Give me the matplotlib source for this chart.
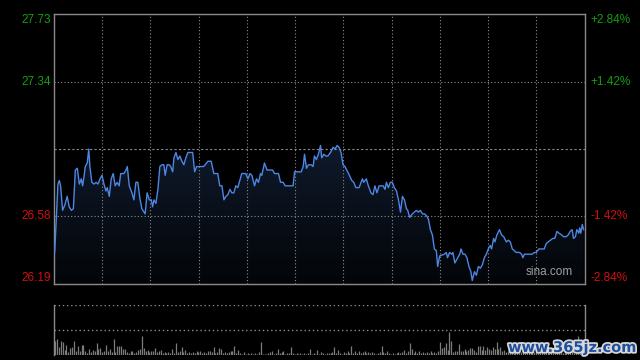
import numpy as np
import matplotlib
matplotlib.use("Agg")
import matplotlib.pyplot as plt
import matplotlib.patheffects as pe
from matplotlib.colors import LinearSegmentedColormap

plt.rcParams['font.family'] = ['Liberation Sans', 'DejaVu Sans']

# intraday data (minute from open, price)
minutes = [0.3, 1.8, 2.4, 3.0, 3.9, 4.9, 6.0, 6.9, 7.9, 8.8, 9.7, 10.6, 11.5, 12.4, 13.0, 13.6,
           14.2, 15.1, 15.8, 16.3, 17.2, 18.2, 19.1, 20.0, 20.9, 21.8, 22.7, 23.6, 24.2, 25.1,
           26.0, 26.9, 27.8, 28.7, 29.6, 30.3, 31.8, 32.7, 33.3, 34.2, 35.4, 36.3, 37.2, 38.1,
           39.0, 39.9, 40.9, 41.4, 42.3, 43.3, 44.2, 44.8, 45.4, 46.3, 47.2, 48.1, 49.0, 49.9,
           50.5, 51.4, 52.3, 53.0, 53.9, 54.5, 55.4, 56.3, 57.2, 58.1, 59.0, 59.9, 60.8, 63.0,
           63.9, 64.8, 67.9, 68.7, 69.9, 71.4, 72.6, 74.4, 75.3, 76.3, 77.2, 78.1, 79.0, 79.9,
           80.8, 81.7, 82.6, 83.5, 84.4, 85.3, 87.1, 88.1, 89.0, 89.9, 91.1, 92.0, 92.9, 93.8,
           94.4, 95.6, 96.8, 99.3, 100.2, 102.0, 102.9, 104.1, 105.0, 108.6, 109.3, 112.3, 113.2,
           113.8, 114.7, 115.6, 116.8, 117.7, 118.3, 119.2, 120.1, 121.1, 121.6, 122.6, 123.5,
           124.4, 125.6, 126.8, 127.7, 128.6, 129.5, 130.4, 131.3, 132.2, 133.8, 135.3, 136.2,
           137.1, 138.6, 139.5, 140.1, 140.7, 141.9, 142.8, 144.0, 144.9, 145.8, 146.7, 147.7,
           148.6, 149.5, 150.4, 151.0, 151.9, 152.8, 153.7, 154.6, 155.6, 156.5, 157.4, 158.3,
           159.2, 160.1, 160.7, 161.6, 162.8, 163.7, 164.6, 165.5, 166.4, 167.4, 168.3, 169.2,
           170.1, 171.0, 171.9, 172.8, 173.7, 174.3, 175.2, 177.3, 178.2, 178.8, 179.7, 180.7,
           181.2, 182.1, 183.4, 184.3, 184.9, 185.8, 186.7, 187.6, 188.5, 189.4, 190.0, 191.0,
           191.9, 192.8, 193.7, 194.6, 195.5, 196.4, 197.3, 198.2, 198.8, 199.7, 200.3, 201.2,
           202.4, 203.3, 204.3, 205.5, 206.4, 207.3, 208.2, 209.1, 210.0, 211.5, 212.4, 213.0,
           213.7, 217.3, 218.2, 219.1, 220.3, 222.7, 223.6, 224.5, 226.6, 227.5, 228.5, 229.4,
           230.6, 231.5, 232.7, 233.6, 234.5, 235.4, 236.0, 236.9, 237.5, 238.4, 238.8, 239.3,
           240.0, 240.6]
prices = [26.37, 26.76, 26.78, 26.75, 26.61, 26.64, 26.69, 26.63, 26.61, 26.62, 26.84, 26.85,
          26.76, 26.79, 26.75, 26.80, 26.86, 26.88, 26.96, 26.86, 26.77, 26.76, 26.77, 26.76,
          26.79, 26.81, 26.76, 26.72, 26.74, 26.69, 26.79, 26.82, 26.75, 26.77, 26.75, 26.82,
          26.82, 26.84, 26.86, 26.75, 26.71, 26.67, 26.77, 26.77, 26.68, 26.62, 26.60, 26.59,
          26.71, 26.67, 26.67, 26.63, 26.67, 26.65, 26.73, 26.86, 26.87, 26.87, 26.81, 26.87,
          26.87, 26.86, 26.83, 26.91, 26.94, 26.90, 26.92, 26.89, 26.87, 26.91, 26.94, 26.94,
          26.83, 26.86, 26.86, 26.87, 26.89, 26.89, 26.82, 26.82, 26.75, 26.75, 26.67, 26.69,
          26.70, 26.73,
          26.71, 26.71, 26.75, 26.74, 26.78, 26.82, 26.82, 26.79, 26.82, 26.81, 26.75, 26.79,
          26.77, 26.82, 26.81, 26.88, 26.84, 26.84, 26.82, 26.82, 26.77, 26.77, 26.75, 26.75,
          26.83, 26.83, 26.86, 26.93, 26.85, 26.87, 26.87, 26.86, 26.92, 26.90, 26.93, 26.98,
          26.91, 26.93, 26.92, 26.92, 26.94, 26.97, 26.96, 26.98, 26.97, 26.94, 26.87, 26.86,
          26.82, 26.78, 26.77, 26.74, 26.74, 26.77, 26.79, 26.77, 26.79, 26.75, 26.71, 26.70,
          26.75, 26.71, 26.75, 26.75, 26.75, 26.73, 26.77, 26.74, 26.77, 26.77, 26.74, 26.72,
          26.67, 26.60, 26.69, 26.67, 26.62,
          26.61, 26.57, 26.59, 26.60, 26.61, 26.60, 26.61, 26.59, 26.59, 26.58, 26.56, 26.50,
          26.47, 26.39, 26.38, 26.29, 26.35, 26.36, 26.37, 26.34, 26.37, 26.36, 26.37, 26.31,
          26.34, 26.36, 26.39, 26.36, 26.36, 26.34, 26.29, 26.26, 26.21, 26.26, 26.24, 26.29,
          26.28, 26.30, 26.34, 26.36, 26.39, 26.41, 26.39, 26.45, 26.43, 26.47, 26.50, 26.47,
          26.46, 26.43, 26.44, 26.43, 26.39, 26.38, 26.37, 26.37, 26.36, 26.34, 26.36, 26.36,
          26.37, 26.37, 26.39, 26.39, 26.42, 26.43, 26.45, 26.45, 26.49, 26.48, 26.47, 26.46,
          26.46, 26.47, 26.49, 26.50, 26.45, 26.46, 26.50, 26.48, 26.51, 26.48, 26.53, 26.50]

volumes = [14, 16, 8, 14, 13, 5, 10, 3, 7, 8, 14, 4, 9, 4, 10, 10, 4, 2, 6, 3, 5, 4, 12, 6, 7, 3,
           4, 10, 4, 6, 3, 16, 3, 9, 9, 9, 6, 6, 3, 2, 4, 4, 2, 3, 5, 6, 19, 7, 4, 5, 3, 4, 4, 7,
           3, 4, 5, 2, 3, 2, 3, 2, 6, 2, 12, 3, 4, 8, 3, 5, 2, 3, 2, 3, 2, 4, 3, 4, 2, 3, 2, 4, 4,
           3, 8, 2, 3, 7, 6, 2, 3, 2, 3, 4, 4, 9, 2, 5, 2, 1, 3, 1, 2, 1, 2, 1, 2, 1, 3, 13, 1, 1,
           1, 2, 3, 4, 1, 2, 6, 2, 3, 4, 1, 2, 2, 8, 2, 1, 2, 1, 2, 1, 2, 1, 2, 6, 1, 2, 1, 5, 1,
           3, 2, 1, 2, 2, 2,
           3, 8, 2, 5, 2, 1, 3, 2, 4, 2, 9, 2, 4, 2, 4, 2, 3, 4, 2, 3, 2, 3, 2, 1, 2, 3, 9, 3, 2,
           4, 2, 1, 2, 1, 2, 3, 2, 3, 5, 2, 4, 12, 6, 2, 4, 2, 4, 2, 3, 2, 3, 2, 4, 2, 3, 2, 4, 13,
           7, 8, 12, 5, 23, 14, 3, 4, 4, 11, 4, 4, 6, 4, 5, 7, 7, 5, 3, 9, 9, 5, 9, 5, 8, 6, 5, 8,
           6, 13, 6, 8, 4, 5, 3, 4, 4, 6, 3, 4, 7, 2,
           3, 4, 2, 5, 3, 2, 4, 3, 6, 2, 3, 4, 2, 5, 3, 2, 4, 3, 2, 5, 3, 4, 2, 3, 6, 2, 3, 4, 2,
           3, 19, 4, 3, 2]

prev_close = 26.96
left_ticks = [27.73, 27.34, 26.58, 26.19]
left_labels = ["27.73", "27.34", "26.58", "26.19"]
right_labels = ["+2.84%", "+1.42%", "-1.42%", "-2.84%"]

n_minutes = 241
green = '#10a010'
red = '#d01010'
grid_c = '#8c8c8c'
border_c = '#8a8a8a'

fig = plt.figure(figsize=(6.4, 3.6), dpi=100, facecolor='black')
ax = fig.add_axes([54 / 640, 1 - 284 / 360, 530.5 / 640, 270 / 360])
axv = fig.add_axes([54 / 640, 1 - 354.5 / 360, 530.5 / 640, 49.5 / 360])

# ---- price panel
ax.set_facecolor('black')
fill = ax.fill_between(minutes, prices, left_ticks[-1], facecolor='none', edgecolor='none')
cmap = LinearSegmentedColormap.from_list('g', ['#030508', '#0f1a2c'])
grad = np.linspace(0, 1, 256).reshape(-1, 1)
im = ax.imshow(grad, extent=[0, n_minutes, left_ticks[-1], prev_close + 0.03],
               origin='lower', aspect='auto', cmap=cmap, zorder=1)
im.set_clip_path(fill.get_paths()[0], transform=ax.transData)
ax.plot(minutes, prices, color='#4d86e3', lw=1.0, zorder=3)

for v in [left_ticks[1], left_ticks[2]]:
    ax.axhline(v, color=grid_c, lw=0.8, ls=(0, (1, 2)), zorder=2)
ax.axhline(prev_close, color=grid_c, lw=0.8, ls=(0, (2, 2)), zorder=2)
for v in np.linspace(0, n_minutes, 12)[1:-1]:
    ax.axvline(v, color=grid_c, lw=0.8, ls=(0, (1, 2)), zorder=2)

ax.set_xlim(0, n_minutes)
ax.set_ylim(left_ticks[-1], left_ticks[0])
ax.set_xticks([])
ax.set_yticks([])
for s in ax.spines.values():
    s.set_color(border_c)
    s.set_linewidth(1.0)

colors = [green, green, red, red]
vas = ['top', 'center', 'center', 'bottom']
for val, ll, rl, c, va in zip(left_ticks, left_labels, right_labels, colors, vas):
    yy = val
    ax.text(-0.006, yy, ll, transform=ax.get_yaxis_transform(), ha='right', va=va,
            color=c, fontsize=8.5)
    ax.text(1.011, yy, rl, transform=ax.get_yaxis_transform(), ha='left', va=va,
            color=c, fontsize=8.5)

ax.text(0.978, 0.022, "sina.com", transform=ax.transAxes, ha='right', va='bottom',
        color='#a0a0a0', fontsize=8.5, zorder=4)

# ---- volume panel
axv.set_facecolor('black')
vx = np.linspace(0.5, n_minutes - 0.5, len(volumes))
axv.vlines(vx, 0, volumes, color='#7c7c7c', lw=0.9)
axv.set_xlim(0, n_minutes)
axv.set_ylim(0, 49.5)
axv.axhline(49.5, color=grid_c, lw=1.0, ls=(0, (1, 2)))
axv.axhline(24.5, color=grid_c, lw=1.0, ls=(0, (1, 2)))
axv.set_xticks([])
axv.set_yticks([])
axv.spines['top'].set_visible(False)
axv.spines['bottom'].set_visible(False)
for s in ['left', 'right']:
    axv.spines[s].set_color(border_c)
    axv.spines[s].set_linewidth(1.0)

# watermark
fig.text(0.995, 0.035, "www.365jz.com", ha='right', va='center', color='#1d4f9e',
         fontsize=10.5, fontweight='bold', family='DejaVu Sans',
         path_effects=[pe.withStroke(linewidth=2.5, foreground='#d8d8d8')])

fig.savefig('out.png', dpi=100, facecolor='black')
